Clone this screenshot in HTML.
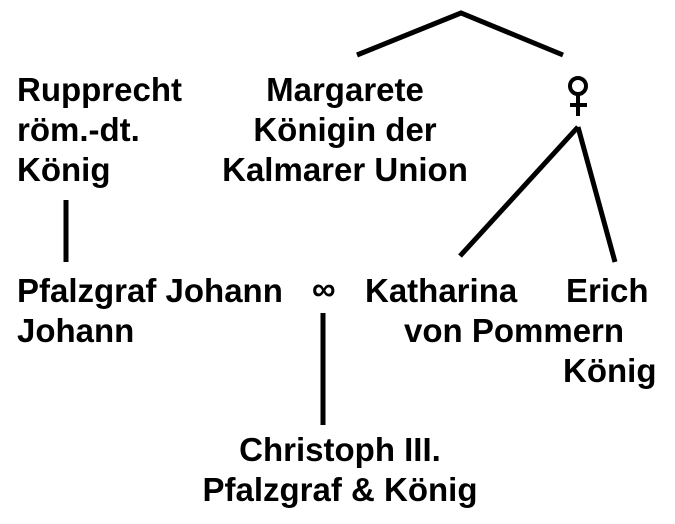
<!DOCTYPE html>
<html><head><style>
body{margin:0;width:675px;height:524px;background:#fff;position:relative;overflow:hidden;font-family:"Liberation Sans",Arial,sans-serif;font-weight:bold;font-size:33px;color:#000}
.t{position:absolute;line-height:40px;white-space:nowrap}
.c{text-align:center}
svg{position:absolute;left:0;top:0}
</style></head><body>
<svg width="675" height="524"><g stroke="#000" stroke-width="5" fill="none" stroke-linecap="butt">
<polyline points="357,55 461,13 563,55"/>
<line x1="66" y1="200" x2="66" y2="262"/>
<line x1="578" y1="127" x2="460" y2="256"/>
<line x1="578" y1="127" x2="615" y2="262"/>
<line x1="323" y1="313" x2="323" y2="425"/>
</g>
<g stroke="#000" stroke-width="4" fill="none">
<circle cx="578" cy="86" r="8"/>
<line x1="578" y1="94" x2="578" y2="116"/>
<line x1="570" y1="105" x2="587" y2="105"/>
</g></svg>
<div class="t" style="left:17px;top:70px">Rupprecht<br>röm.-dt.<br>König</div>
<div class="t c" style="left:200px;width:290px;top:70px">Margarete<br>Königin der<br>Kalmarer Union</div>
<div class="t" style="left:17px;top:271px">Pfalzgraf Johann<br>Johann</div>
<div class="t" style="left:312px;top:269px">∞</div>
<div class="t" style="left:365px;top:271px">Katharina</div>
<div class="t" style="left:566px;top:271px">Erich</div>
<div class="t" style="left:404px;top:311px">von Pommern</div>
<div class="t" style="left:563px;top:351px">König</div>
<div class="t c" style="left:190px;width:300px;top:430px">Christoph III.<br>Pfalzgraf &amp; König</div>
</body></html>
